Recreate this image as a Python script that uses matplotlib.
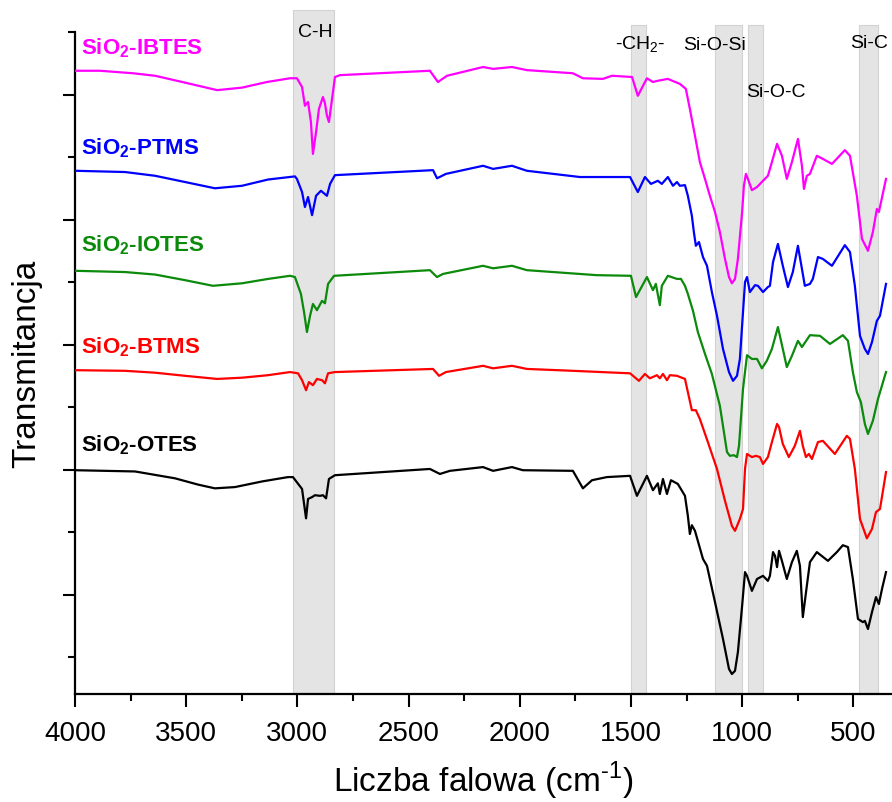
#!/usr/bin/env python3
"""FTIR spectra of modified SiO2 samples (offset stack)."""

import matplotlib
matplotlib.use("Agg")
import matplotlib.pyplot as plt
import numpy as np
from matplotlib.ticker import MultipleLocator

# (wavenumber cm-1, transmittance a.u. incl. offset)
otes = [(4000, 29.9), (3730, 29.7), (3550, 28.6), (3447, 27.6), (3371, 27.0), (3281, 27.2), (3159, 28.1),
        (3042, 28.8), (3020, 28.8),
        (2979, 26.9), (2961, 22.2), (2952, 25.3), (2934, 25.6), (2921, 25.9), (2898, 25.8), (2885, 25.9),
        (2871, 25.4), (2858, 28.5), (2831, 29.1), (2404, 30.1), (2359, 29.3), (2314, 29.8), (2165, 30.4),
        (2120, 29.8), (2035, 30.4), (1986, 29.9), (1761, 29.8), (1716, 27.0), (1675, 28.3), (1608, 28.8),
        (1504, 29.0), (1473, 25.8), (1428, 29.0), (1401, 26.7), (1379, 27.8), (1370, 26.1), (1356, 28.5),
        (1338, 26.1), (1320, 28.3), (1289, 27.7), (1257, 25.8), (1244, 22.6), (1235, 19.7), (1226, 21.1),
        (1212, 20.2), (1176, 15.7), (1158, 14.6), (1122, 8.8), (1086, 2.9), (1059, -1.9), (1046, -2.7),
        (1032, -2.2), (1019, 0.8), (1000, 8.2), (987, 13.6), (978, 13.0), (956, 10.6), (933, 12.5),
        (906, 13.0), (884, 12.2), (875, 13.0), (861, 16.8), (852, 16.2), (843, 14.4), (834, 17.0),
        (821, 15.4), (799, 12.5), (776, 15.2), (754, 17.0), (740, 14.6), (727, 6.4), (709, 11.4),
        (695, 15.2), (664, 16.8), (614, 15.4), (574, 16.8), (547, 17.9), (524, 17.6), (502, 12.5),
        (479, 6.1), (457, 5.6), (448, 5.8), (434, 4.5), (416, 7.2), (398, 9.6), (385, 8.5), (371, 10.9),
        (353, 13.6)]

btms = [(4000, 45.9), (3775, 45.8), (3640, 45.5), (3505, 45.0), (3361, 44.5), (3249, 44.7), (3132, 45.1),
        (3033, 45.6), (2997, 45.4),
        (2979, 44.3), (2961, 42.7), (2948, 44.0), (2930, 43.5), (2912, 44.5), (2889, 44.3), (2876, 43.8),
        (2862, 45.4), (2831, 45.6), (2390, 46.1), (2363, 45.0), (2332, 45.6), (2165, 46.6), (2120, 46.2),
        (2035, 46.6), (1968, 46.1), (1761, 45.8), (1504, 45.4), (1464, 44.2), (1437, 45.3), (1415, 44.6),
        (1383, 45.1), (1370, 44.6), (1356, 45.3), (1338, 44.3), (1325, 45.1), (1293, 45.0), (1257, 44.5),
        (1244, 42.4), (1226, 39.5), (1208, 39.5), (1190, 38.1), (1154, 34.4), (1113, 30.1), (1077, 25.0),
        (1046, 21.0), (1032, 20.2), (1010, 22.1), (996, 23.7), (987, 30.1), (978, 32.5), (956, 32.0),
        (938, 32.2), (920, 32.0), (906, 30.9), (884, 32.0), (866, 34.4), (843, 37.3), (834, 36.8),
        (817, 34.1), (790, 32.0), (763, 33.8), (740, 36.2), (727, 33.8), (713, 32.0), (700, 32.5),
        (686, 31.7), (659, 34.4), (637, 34.6), (583, 32.5), (529, 35.4), (515, 34.9), (493, 30.1),
        (470, 22.1), (439, 19.0), (416, 20.5), (398, 23.2), (380, 23.7), (353, 29.6)]

iotes = [(4000, 61.8), (3775, 61.6), (3640, 61.2), (3505, 60.3), (3380, 59.4), (3249, 59.8), (3132, 60.5),
         (3033, 61.0), (3011, 60.8),
         (2984, 58.1), (2970, 55.2), (2957, 52.0), (2943, 54.6), (2930, 56.5), (2912, 55.5), (2889, 57.0),
         (2876, 56.6), (2862, 59.7), (2835, 61.0), (2404, 61.9), (2372, 60.8), (2345, 61.3), (2165, 62.6),
         (2120, 62.2), (2035, 62.6), (1968, 61.9), (1653, 61.1), (1500, 61.0), (1477, 57.6), (1428, 60.8),
         (1401, 58.7), (1388, 59.7), (1370, 56.3), (1361, 59.4), (1334, 61.0), (1293, 60.5), (1275, 60.5),
         (1257, 59.4), (1244, 58.1), (1221, 55.4), (1199, 52.0), (1167, 48.5), (1136, 45.3), (1100, 40.2),
         (1068, 32.8), (1055, 32.2), (1037, 32.3), (1023, 32.0), (1014, 33.8), (996, 42.9), (978, 48.3),
         (956, 47.7), (933, 47.7), (911, 46.2), (889, 47.4), (866, 49.3), (839, 52.8), (817, 49.3),
         (799, 46.4), (776, 48.2), (749, 50.6), (731, 49.6), (695, 51.5), (650, 51.4), (605, 50.1),
         (547, 51.5), (524, 50.6), (502, 45.6), (484, 42.4), (466, 40.8), (448, 37.3), (434, 35.7),
         (412, 37.8), (389, 41.3), (353, 45.6)]

ptms = [(4000, 77.8), (3775, 77.6), (3640, 77.0), (3505, 76.0), (3371, 75.0), (3249, 75.4), (3132, 76.4),
        (3011, 76.9), (3002, 76.5),
        (2979, 74.4), (2966, 72.0), (2952, 73.6), (2934, 70.7), (2916, 73.8), (2894, 74.6), (2867, 73.8),
        (2853, 75.7), (2831, 77.1), (2390, 77.9), (2372, 76.6), (2332, 77.3), (2165, 78.6), (2120, 78.1),
        (2035, 78.6), (1968, 77.8), (1729, 76.8), (1504, 76.8), (1469, 74.4), (1437, 76.8), (1410, 75.7),
        (1379, 76.2), (1361, 75.7), (1334, 76.8), (1311, 75.4), (1293, 76.0), (1280, 75.4), (1257, 75.5),
        (1244, 73.8), (1226, 70.6), (1217, 68.0), (1208, 65.8), (1194, 66.4), (1176, 64.0), (1158, 62.6),
        (1136, 58.4), (1113, 54.6), (1086, 49.3), (1059, 45.6), (1041, 44.2), (1023, 45.0), (1010, 47.7),
        (996, 55.2), (987, 60.0), (978, 60.8), (965, 58.4), (942, 59.5), (929, 59.4), (906, 58.4),
        (884, 59.2), (875, 59.4), (861, 63.2), (839, 66.1), (817, 62.6), (794, 59.2), (772, 61.6),
        (749, 65.8), (731, 62.1), (718, 59.4), (695, 59.7), (682, 60.5), (659, 64.0), (637, 63.7),
        (596, 62.6), (538, 65.9), (515, 64.8), (493, 59.4), (470, 51.4), (448, 49.3), (434, 48.5),
        (416, 50.4), (394, 53.8), (380, 54.6), (353, 59.7)]

ibtes = [(4000, 93.8), (3888, 93.8), (3739, 93.4), (3640, 93.0), (3505, 91.9), (3361, 90.7), (3249, 91.1),
         (3137, 92.0), (3033, 92.6),
         (3002, 92.6), (2979, 91.2), (2966, 88.2), (2952, 88.8), (2939, 85.6), (2930, 80.5), (2916, 84.0),
         (2903, 87.7), (2885, 89.6), (2876, 88.6), (2867, 86.6), (2858, 85.6), (2844, 89.3), (2831, 92.8),
         (2808, 93.1), (2404, 93.8), (2368, 92.0), (2327, 93.0), (2165, 94.4), (2120, 94.1), (2035, 94.4),
         (1968, 93.9), (1761, 93.4), (1716, 92.6), (1626, 92.5), (1585, 93.0), (1495, 92.8), (1469, 89.8),
         (1428, 92.6), (1401, 92.0), (1379, 92.2), (1334, 92.5), (1280, 91.7), (1253, 90.9), (1235, 87.7),
         (1212, 83.4), (1190, 79.2), (1167, 76.5), (1145, 73.8), (1122, 71.2), (1100, 68.0), (1077, 63.7),
         (1059, 60.8), (1046, 59.8), (1032, 60.5), (1019, 63.7), (1000, 71.2), (992, 75.4), (983, 77.3),
         (974, 76.5), (956, 74.7), (933, 75.2), (906, 76.2), (884, 77.0), (866, 79.2), (843, 82.1),
         (821, 80.2), (799, 76.5), (776, 79.2), (749, 82.9), (731, 78.6), (722, 74.9), (709, 77.0),
         (695, 77.3), (664, 80.2), (637, 79.7), (596, 78.9), (538, 81.1), (515, 80.2), (484, 73.8),
         (461, 66.9), (434, 65.0), (412, 68.0), (394, 71.7), (385, 71.2), (353, 76.5)]

samples = ["SiO$_\\mathbf{2}$-IBTES", "SiO$_\\mathbf{2}$-PTMS", "SiO$_\\mathbf{2}$-IOTES",
           "SiO$_\\mathbf{2}$-BTMS", "SiO$_\\mathbf{2}$-OTES"]
sample_colors = ["#ff00ff", "#0000ff", "#0b8a0b", "#ff0000", "#000000"]
label_y = [96.5, 80.5, 65.0, 48.8, 33.0]

# shaded assignment bands: (high, low, label, label_x, label_y)
bands = [(3020, 2835, "C-H", 2921, 99.4),
         (1500, 1430, "-CH$_2$-", 1460, 97.3),
         (1120, 1000, "Si-O-Si", 1122, 97.3),
         (975, 905, "Si-O-C", 848, 89.8),
         (475, 388, "Si-C", 430, 97.6)]
band_tops = [1.033, 1.011, 1.011, 1.011, 1.011]


def main() -> None:
    plt.rcParams["font.family"] = ["Liberation Sans", "DejaVu Sans"]
    plt.rcParams["mathtext.fontset"] = "custom"
    plt.rcParams["mathtext.rm"] = "Liberation Sans"
    plt.rcParams["mathtext.bf"] = "Liberation Sans:bold"

    fig = plt.figure(figsize=(8.92, 8.03), dpi=100)
    ax = fig.add_axes([75 / 892, 108 / 803, 817 / 892, 662 / 803])

    for (hi, lo, name, tx, ty), top in zip(bands, band_tops):
        ax.axvspan(lo, hi, ymin=0, ymax=top, facecolor="#e4e4e4", edgecolor="#d2d2d2",
                   lw=0.8, clip_on=False, zorder=0)
        ax.text(tx, ty, name, ha="center", va="baseline", fontsize=14)

    for data, name, col, ly in zip([ibtes, ptms, iotes, btms, otes], samples, sample_colors, label_y):
        wn, tr = np.array(data).T
        ax.plot(wn, tr, color=col, lw=1.6, zorder=3)
        ax.text(3973, ly, name, color=col, fontsize=16, fontweight="bold", va="baseline")

    ax.set_xlim(4000, 326)
    ax.set_ylim(-5.9, 100)
    ax.set_xticks(np.arange(500, 4001, 500))
    ax.xaxis.set_minor_locator(MultipleLocator(250))
    ax.set_yticks([10, 30, 50, 70, 90])
    ax.set_yticklabels([])
    ax.set_yticks(np.arange(0, 101, 20), minor=True)
    ax.tick_params(axis="both", which="major", direction="out", length=9, width=1.5, labelsize=20, pad=10)
    ax.tick_params(axis="both", which="minor", direction="out", length=5, width=1.5)
    for side in ("top", "right"):
        ax.spines[side].set_visible(False)
    for side in ("left", "bottom"):
        ax.spines[side].set_linewidth(1.6)

    ax.set_xlabel("Liczba falowa (cm$^{\u2010 1}$)", fontsize=24, labelpad=9)
    ax.set_ylabel("Transmitancja", fontsize=24, labelpad=4.5)

    fig.savefig("out.png", dpi=100)


if __name__ == "__main__":
    main()
